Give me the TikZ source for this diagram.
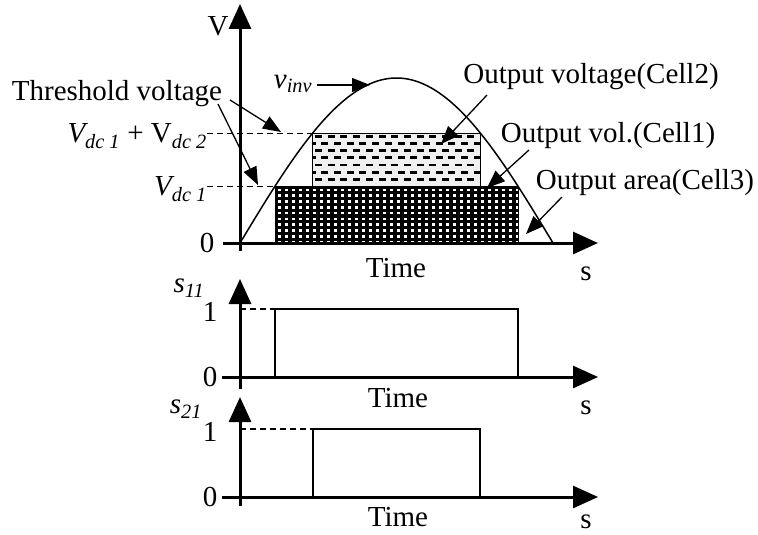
\documentclass[tikz,border=0pt]{standalone}
\usepackage{fontspec}
\setmainfont{Liberation Serif}
\usetikzlibrary{arrows.meta}
\begin{document}
\begin{tikzpicture}[x=1pt,y=-1pt,
  lbl/.style={inner sep=0pt, font=\fontsize{29}{32}\selectfont},
  axis/.style={line width=3pt, -{Triangle[length=25pt,width=22pt]}},
  thinarr/.style={line width=1.3pt, -{Triangle[length=18pt,width=14pt]}},
  dsh/.style={line width=0.9pt, dash pattern=on 6pt off 4pt},
  wave/.style={line width=1.5pt},
  pulse/.style={line width=1.5pt}]
\useasboundingbox (0,0) rectangle (758,535);
% ---------- main plot ----------
\coordinate (vbot) at (240,251);
\coordinate (vtop) at (240,4);
\coordinate (hleft) at (223,243);
\coordinate (hright) at (598,243);
% cell2 pattern
\fill[gray!12] (312,133) rectangle (480,186);
\begin{scope}
\clip (312,133) rectangle (480,186);
\foreach \j in {0,...,6}{\foreach \i in {-1,...,14}{
  \fill ({315+12.7*\i+mod(\j,2)*6.3},{134.8+7.2*\j}) rectangle ++(7,2.8);}}
\end{scope}
\draw[line width=1pt] (312,133) rectangle (480,186);
% cell1 pattern
\begin{scope}
\clip (275,186) rectangle (518,243);
\fill[black] (275,186) rectangle (518,243);
\foreach \i in {0,...,34}{\foreach \j in {0,...,9}{
  \fill[white] ({277.5+7*\i},{188.5+5.8*\j}) rectangle ++(3,2.6);}}
\end{scope}
\draw[line width=1pt] (275,186) rectangle (518,243);
% sine
\draw[wave] plot[domain=0:180,samples=90,smooth] ({240+1.73889*\x},{243-165*sin(\x)});
\draw[axis] (vbot) -- (vtop);
\draw[axis] (hleft) -- (hright);
\node[lbl] (vlab) at (218,26) {V};
\node[lbl] (zero0) at (207,243) {0};
\node[lbl] (time0) at (396,268) {Time};
\node[lbl] (s0) at (586,274) {s};
% levels
\node[lbl, anchor=east] (vdc1) at (207,189) {\itshape V\textsubscript{\itshape dc 1}};
\node[lbl, anchor=east] (vdc12) at (207,136) {{\itshape V}\textsubscript{\itshape dc 1} + V\textsubscript{\itshape dc 2}};
\coordinate (l1) at (275,186);
\coordinate (l2) at (312,133);
\draw[dsh] (vdc1.east |- l1) -- (l1);
\draw[dsh] (vdc12.east |- l2) -- (l2);
% threshold
\node[lbl] (thr) at (117,94) {Threshold voltage};
\coordinate (t1s) at (230,100);
\coordinate (t1e) at (281,132);
\coordinate (t2s) at (218,104);
\coordinate (t2e) at (258,185);
\draw[thinarr] (t1s) -- (t1e);
\draw[thinarr] (t2s) -- (t2e);
% vinv
\node[lbl] (vinv) at (293,84) {\itshape v\textsubscript{\itshape inv}};
\coordinate (vinvtip) at (370,85);
\draw[thinarr] ([xshift=5pt]vinv.east |- vinvtip) -- (vinvtip);
% cell labels
\node[lbl] (c2) at (591,77) {Output voltage(Cell2)};
\node[lbl] (c1) at (608,136) {Output vol.(Cell1)};
\node[lbl] (c3) at (645,183) {Output area(Cell3)};
\coordinate (c2s) at (487,95);
\coordinate (c2e) at (441,144);
\coordinate (c1s) at (529,150);
\coordinate (c1e) at (487,188);
\coordinate (c3s) at (562,197);
\coordinate (c3e) at (526,234);
\draw[thinarr] (c2s) -- (c2e);
\draw[thinarr] (c1s) -- (c1e);
\draw[thinarr] (c3s) -- (c3e);
% ---------- s11 ----------
\coordinate (abot) at (240,389);
\coordinate (atop) at (240,279);
\coordinate (aleft) at (222,377);
\coordinate (aright) at (598,377);
\coordinate (p1a) at (275,377);
\coordinate (p1b) at (275,309);
\coordinate (p1c) at (518,309);
\coordinate (p1d) at (518,377);
\coordinate (p1z) at (240,309);
\draw[pulse] (p1a) -- (p1b) -- (p1c) -- (p1d);
\draw[dsh,line width=1.2pt] (p1z) -- (p1b);
\draw[axis] (abot) -- (atop);
\draw[axis] (aleft) -- (aright);
\node[lbl] (s11) at (189,288) {\itshape s\textsubscript{\itshape 11}};
\node[lbl] (one1) at (210,312) {1};
\node[lbl] (zero1) at (210,377) {0};
\node[lbl] (time1) at (398,398) {Time};
\node[lbl] (s1) at (586,408) {s};
% ---------- s21 ----------
\coordinate (bbot) at (240,506);
\coordinate (btop) at (240,397);
\coordinate (bleft) at (222,497);
\coordinate (bright) at (598,497);
\coordinate (p2a) at (313,497);
\coordinate (p2b) at (313,429);
\coordinate (p2c) at (480,429);
\coordinate (p2d) at (480,497);
\coordinate (p2z) at (240,429);
\draw[pulse] (p2a) -- (p2b) -- (p2c) -- (p2d);
\draw[dsh,line width=1.2pt] (p2z) -- (p2b);
\draw[axis] (bbot) -- (btop);
\draw[axis] (bleft) -- (bright);
\node[lbl] (s21) at (186,409) {\itshape s\textsubscript{\itshape 21}};
\node[lbl] (one2) at (210,432) {1};
\node[lbl] (zero2) at (210,497) {0};
\node[lbl] (time2) at (398,517) {Time};
\node[lbl] (s2) at (586,522) {s};
\end{tikzpicture}
\end{document}
